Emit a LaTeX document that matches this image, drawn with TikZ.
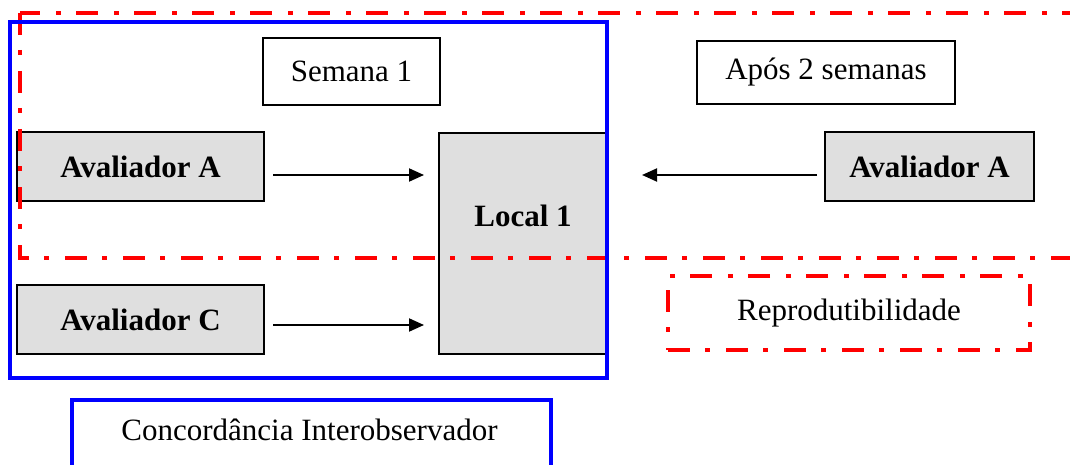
\documentclass[tikz,border=0pt]{standalone}
\usepackage{fontspec}
\setmainfont{Liberation Serif}
\usetikzlibrary{arrows.meta}

\definecolor{boxgray}{RGB}{223,223,223}
\tikzset{
    avaliador/.style={draw=black, line width=0.8pt, fill=boxgray,
        font=\fontsize{12.4}{15}\selectfont\bfseries,
        inner sep=0pt, minimum width=98.8pt, minimum height=27.6pt},
    rotulo/.style={draw=black, line width=0.8pt, fill=white, inner sep=0pt},
    pontotraco/.style={draw=red, line width=1.6pt,
        dash pattern=on 8.8pt off 6pt on 2pt off 6.4pt},
    seta/.style={line width=0.8pt, -{Triangle[length=6pt,width=5.2pt]}},
}

\begin{document}
\begin{tikzpicture}[x=0.4pt, y=-0.4pt, font=\fontsize{12.4}{15}\selectfont]
        \def\reprod{(20,13) rectangle (1090,258)}
        \def\interobs{(10,22) rectangle (607,378)}
        \clip (0,0) rectangle (1070,465);
        % avaliadores e local
        \node[avaliador] (avalA) at (140.5,166.5) {Avaliador A};
        \node[avaliador] (avalC) at (140.5,319.5) {Avaliador C};
        \node[avaliador, minimum width=67.2pt, minimum height=88.4pt, text depth=22.4pt] (local) at (523,243.5) {Local 1};
        \node[avaliador, minimum width=83.6pt] (avalAr) at (929.5,166.5) {Avaliador A};
        \node[rotulo, minimum width=70.8pt, minimum height=26.8pt] (semana) at (351.5,71.5) {Semana 1};
        \node[rotulo, minimum width=103.2pt, minimum height=25.2pt] (apos) at (826,72.5) {Após 2 semanas};
        % setas
        \coordinate (pA) at (local.west |- 0,175);
        \coordinate (pC) at (local.west |- 0,325);
        \coordinate (pR) at (local.east |- 0,175);
        \draw[seta] ([xshift=3.2pt]avalA.east |- pA) -- ([xshift=-5.6pt]pA);
        \draw[seta] ([xshift=3.2pt]avalC.east |- pC) -- ([xshift=-5.6pt]pC);
        \draw[seta] ([xshift=-2.8pt]avalAr.west |- pR) -- ([xshift=13.6pt]pR);
        % quadros
        \draw[pontotraco] \reprod;
        \draw[blue, line width=1.6pt] \interobs;
        \node[pontotraco, inner sep=0pt, minimum width=144.8pt, minimum height=29.6pt] (reprod) at (849,313) {Reprodutibilidade};
        \node[draw=blue, line width=1.6pt, inner sep=0pt, minimum width=191.6pt, minimum height=34pt, anchor=north west] (interobs) at (70,398) {};
        \node at (309.5,430) {Concordância Interobservador};
    \end{tikzpicture}
\end{document}
